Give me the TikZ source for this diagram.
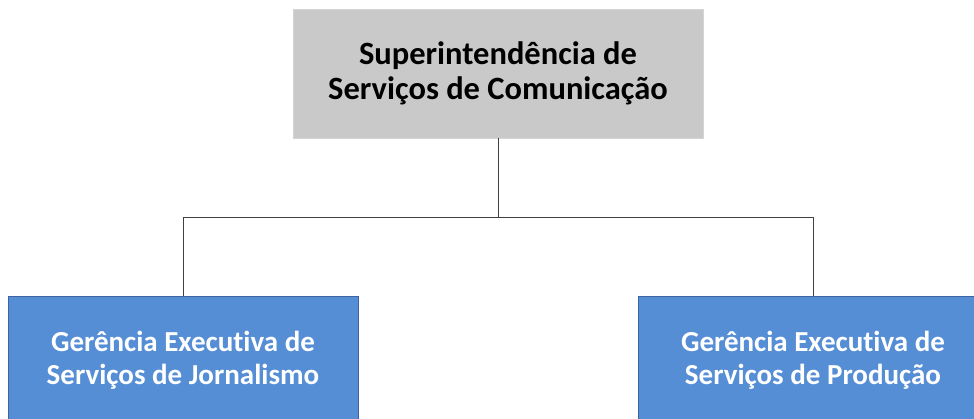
\documentclass[tikz,border=0pt]{standalone}
\usepackage{fontspec}
\setmainfont{Carlito}[Ligatures=NoCommon]

\begin{document}
\begin{tikzpicture}
  [x=1pt, y=-1pt,
   every node/.style={align=center, inner sep=0pt},
   topbox/.style={fill=black!21, draw=black!17, minimum width=410pt, minimum height=129pt,
                  font=\fontsize{32.5}{35}\selectfont\bfseries},
   subbox/.style={fill=gerblue, draw=gerline, text=white, minimum width=350pt, minimum height=128pt,
                  font=\fontsize{29}{33}\selectfont\bfseries},
   link/.style={draw=black!75, line width=0.9pt}]
  \useasboundingbox (0,0) rectangle (974,418);
  \definecolor{gerblue}{HTML}{558ED5}
  \definecolor{gerline}{HTML}{3B64A0}
  \node[topbox] (sup) at (498,73.5) {Superintendência de\\Serviços de Comunicação};
  \node[subbox] (jorn) at (183,360) {Gerência Executiva de\\Serviços de Jornalismo};
  \node[subbox] (prod) at (813,360) {Gerência Executiva de\\Serviços de Produção};
  \draw[link] (sup.south) -- ++(0,79) -| (jorn.north);
  \draw[link] (sup.south) -- ++(0,79) -| (prod.north);

\end{tikzpicture}
\end{document}
